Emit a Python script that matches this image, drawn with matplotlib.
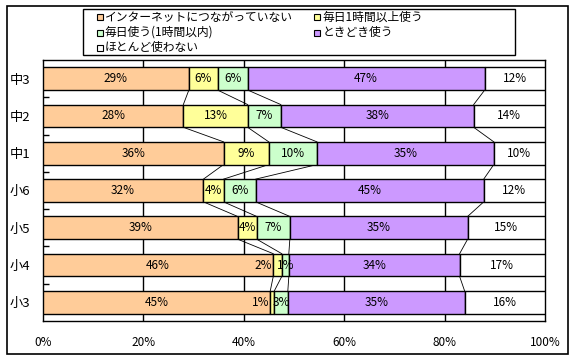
import matplotlib
matplotlib.use("Agg")
import matplotlib.pyplot as plt
from matplotlib.patches import Rectangle
import numpy as np

plt.rcParams['font.family'] = ['Noto Sans CJK JP', 'DejaVu Sans']

categories = ["小3", "小4", "小5", "小6", "中1", "中2", "中3"]
series_names = ["インターネットにつながっていない", "毎日1時間以上使う", "毎日使う(1時間以内)",
                "ときどき使う", "ほとんど使わない"]
colors = ["#FFCC99", "#FFFF99", "#CCFFCC", "#CC99FF", "#FFFFFF"]

no_net   = [45.3, 45.9, 38.8, 32.0, 36.0, 28.0, 29.1]
daily_1h = [0.8, 1.7, 3.8, 4.0, 9.0, 12.8, 5.7]
daily    = [2.7, 1.4, 6.6, 6.4, 9.6, 6.6, 6.0]
sometime = [35.2, 34.0, 35.4, 45.4, 35.2, 38.4, 47.2]
rarely   = [16.0, 17.0, 15.4, 12.2, 10.2, 14.2, 12.0]
series = [no_net, daily_1h, daily, sometime, rarely]
xticks = [0, 20, 40, 60, 80, 100]
xticklabels = ["0%", "20%", "40%", "60%", "80%", "100%"]

W, H = 575, 359
fig = plt.figure(figsize=(W / 100, H / 100), dpi=100)
ax = fig.add_axes([42.7 / W, 1 - 321 / H, (545 - 42.7) / W, (321 - 60) / H])

y = np.arange(len(categories))
bh = 0.61
left = np.zeros(len(categories))
cums = []
for k, (vals, col) in enumerate(zip(series, colors)):
    vals = np.array(vals)
    ax.barh(y, vals, left=left, height=bh, color=col, edgecolor='black', linewidth=1.0, zorder=3)
    for i, v in enumerate(vals):
        if k == 1 and v < 3:
            ax.text(left[i] - 0.2, y[i], f"{v:.0f}%", ha='right', va='center', fontsize=8.5, zorder=5)
        else:
            ax.text(left[i] + v / 2, y[i], f"{v:.0f}%", ha='center', va='center', fontsize=8.5, zorder=5)
    left = left + vals
    cums.append(left.copy())

# series lines
for c in cums[:-1]:
    for j in range(len(categories) - 1):
        ax.plot([c[j + 1], c[j]], [y[j + 1] - bh / 2, y[j] + bh / 2], color='black', lw=0.6, zorder=2)

ax.set_xlim(0, 100)
ax.set_ylim(-0.5, len(categories) - 0.5)
ax.set_xticks(xticks)
ax.set_xticklabels(xticklabels, fontsize=8.5)
ax.tick_params(axis='x', length=0, pad=11)
ax.set_yticks(y)
ax.set_yticklabels(categories, fontsize=9.5)
ax.tick_params(axis='y', which='major', length=0, pad=9)
ax.set_yticks(np.arange(0.5, len(categories) - 0.5, 1), minor=True)
ax.tick_params(axis='y', which='minor', direction='in', length=4, width=1, color='black')
for xv in xticks[1:-1]:
    ax.axvline(xv, color='black', lw=1, zorder=1)
for s in ax.spines.values():
    s.set_linewidth(1)
    s.set_color('black')

# outer frame
fig.patches.append(Rectangle((6.5 / W, 1 - 354 / H), (568 - 6.5) / W, (354 - 6) / H,
                             transform=fig.transFigure, fill=False, edgecolor='black', lw=1.2))
# legend
fig.patches.append(Rectangle((82.5 / W, 1 - 55 / H), (515 - 82.5) / W, (55 - 9.3) / H,
                             transform=fig.transFigure, fill=False, edgecolor='black', lw=1.0))
pos = [(96.7, 17), (314.3, 17), (96.7, 32.5), (314.3, 32.5), (96.7, 48)]
for (px, py), name, col in zip(pos, series_names, colors):
    fig.patches.append(Rectangle((px / W, 1 - (py + 3) / H), 6 / W, 6 / H,
                                 transform=fig.transFigure, facecolor=col, edgecolor='black', lw=0.8))
    fig.text((px + 8) / W, 1 - py / H, name, ha='left', va='center', fontsize=8.5)

fig.savefig("out.png", dpi=100)
